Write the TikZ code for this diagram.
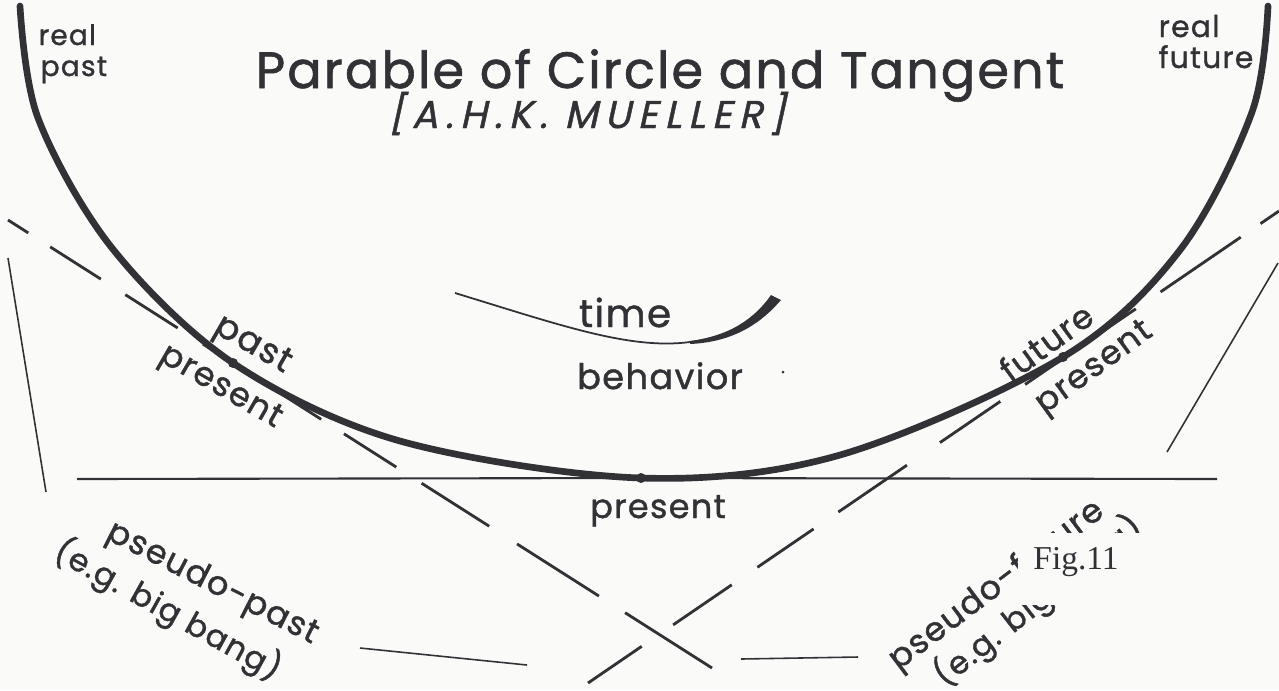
\documentclass[tikz,border=0pt]{standalone}
\usepackage{fontspec}
\setmainfont{Poppins}[FakeBold=1.2, LetterSpace=4]
\newfontfamily\slantfont[FakeSlant=0.22, FakeBold=1.2, LetterSpace=18]{Poppins}
\newfontfamily\figfont{Liberation Serif}
\usetikzlibrary{calc}
\definecolor{inkgray}{RGB}{50,50,54}
\definecolor{paperwhite}{RGB}{250,250,248}

\begin{document}
\begin{tikzpicture}[x=0.01cm, y=-0.01cm,
    hand/.style={text=inkgray, inner sep=0pt},
    tangentline/.style={inkgray, line width=0.8pt},
    thinline/.style={inkgray, line width=0.45pt}]
  \useasboundingbox[fill=paperwhite] (0,0) rectangle (1279,690);

  % hand drawn circle
  \draw[inkgray, line width=1.9pt, line cap=round] plot[smooth, tension=0.55] coordinates {
    (20,6) (38,118) (112,248) (233,363) (400,441)
    (641,478) (840,455) (1063,357)
    (1180,250) (1252,112) (1268,6)};

  % touching points
  \coordinate (pastpt) at (233,363);
  \coordinate (nowpt) at (641,478);
  \coordinate (futpt) at (1063,357);

  % tangents
  \coordinate (lt1) at (8,220);
  \coordinate (lt2) at (712,668);
  \draw[tangentline, dash pattern=on 0.24cm off 0.26cm on 0.6cm off 0.29cm on 0.62cm off 0.3cm
    on 0.6cm off 0.3cm on 0.5cm off 0.27cm on 0.62cm off 0.3cm on 0.8cm off 0.33cm
    on 0.97cm off 0.31cm on 1.03cm off 0.1cm] (lt1) -- (lt2);
  \coordinate (rt1) at (588,683);
  \coordinate (rt2) at (1279,211);
  \draw[tangentline, dash pattern=on 0.65cm off 0.38cm on 0.71cm off 0.31cm on 0.68cm off 0.3cm
    on 0.83cm off 0.4cm on 0.73cm off 0.3cm on 0.6cm off 0.3cm on 0.44cm off 0.3cm
    on 0.97cm off 0.24cm on 0.23cm off 0.1cm] (rt1) -- (rt2);
  \draw[tangentline, line width=0.6pt] (77,479) -- (nowpt) -- (1217,479);

  % outer strokes
  \draw[thinline] (8,258) -- (46,492);
  \draw[thinline] (1278,263) -- (1167,452);
  \draw[thinline] (360,648) -- (527,665);
  \draw[thinline] (741,659) -- (858,657);

  % points
  \fill[inkgray] (pastpt) circle[radius=5];
  \fill[inkgray] (nowpt) circle[radius=5];
  \fill[inkgray] (futpt) circle[radius=5];
  \fill[inkgray] (783,372) circle[radius=1.5];

  % time curve
  \draw[inkgray, line width=0.5pt] (455,293) .. controls (560,325) and (630,350) .. (690,342)
    .. controls (730,337) and (760,318) .. (776,299);
  \fill[inkgray] (690,341) .. controls (730,336) and (755,318) .. (771,295) -- (781,300)
    .. controls (762,322) and (735,342) .. (690,344) -- cycle;

  % texts
  \node[hand, anchor=base, font=\fontsize{14.5}{18}\selectfont] (title) at (660,88) {Parable of Circle and Tangent};
  \node[hand, anchor=base, font=\slantfont\fontsize{11}{13}\selectfont] (author) at (587,128) {[A.H.K. MUELLER]};
  \node[hand, anchor=base west, font=\fontsize{8}{10}\selectfont] (realpa) at (38,45) {real};
  \node[hand, anchor=base west, font=\fontsize{8}{10}\selectfont] (realpb) at (40,76) {past};
  \node[hand, anchor=base west, font=\fontsize{8.5}{10}\selectfont] (realfa) at (1158,37) {real};
  \node[hand, anchor=base west, font=\fontsize{8.5}{10}\selectfont] (realfb) at (1158,68) {future};
  \node[hand, anchor=base, font=\fontsize{11}{13}\selectfont] (time) at (625,327) {time};
  \node[hand, anchor=base, font=\fontsize{10}{13}\selectfont] (behav) at (660,389) {behavior};
  \node[hand, anchor=base, font=\fontsize{9.5}{12}\selectfont] (nowlbl) at (658,518) {present};
  \node[hand, rotate=-30, font=\fontsize{10}{12}\selectfont] (pastlbl) at (252,346) {past};
  \node[hand, rotate=-30, font=\fontsize{9.5}{12}\selectfont] (pastnow) at (220,388) {present};
  \node[hand, rotate=36, font=\fontsize{9.5}{12}\selectfont] (futlbl) at (1046,342) {future};
  \node[hand, rotate=36, font=\fontsize{9.5}{12}\selectfont] (futnow) at (1095,369) {present};
  \node[hand, rotate=-27, font=\fontsize{9.5}{12}\selectfont] (pspast) at (212,584) {pseudo-past};
  \node[hand, rotate=-29, font=\fontsize{9}{12}\selectfont] (bang) at (168,610) {(e.g. big bang)};
  \node[hand, rotate=37, font=\fontsize{9.5}{12}\selectfont] (psfut) at (997,586) {pseudo-future};
  \node[hand, rotate=38, font=\fontsize{9}{12}\selectfont] (crunch) at (1038,601) {(e.g. big bang)};

  % figure label over the lettering
  \fill[paperwhite] (1018,533) rectangle (1180,605);
  \node[text=inkgray, inner sep=0pt, font=\figfont\fontsize{9.5}{11}\selectfont] (fig) at (1076,562) {Fig.11};
\end{tikzpicture}
\end{document}
